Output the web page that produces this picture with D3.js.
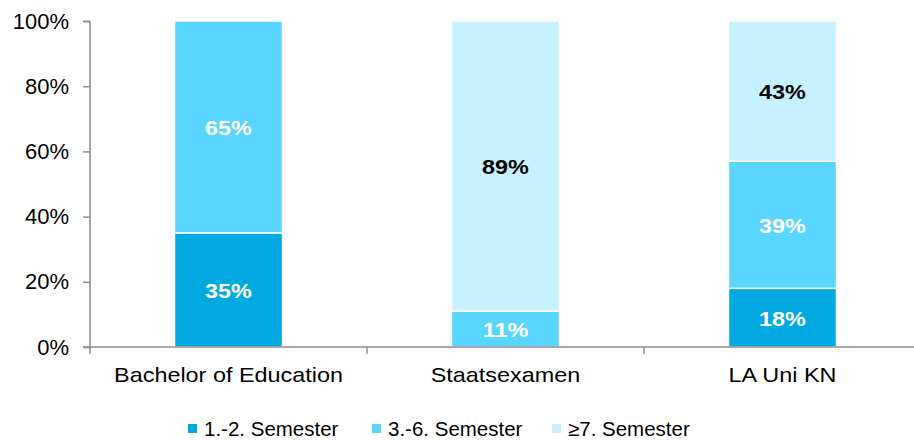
<html lang="de">
<head>
<meta charset="utf-8">
<title>Semester</title>
<style>
  body { margin: 0; background: white; font-family: "Liberation Sans", Arial, sans-serif; }
  .axis path, .axis line { stroke: #8c8c8c; stroke-width: 1.5; fill: none; }
  .axis text { font-family: "Liberation Sans", Arial, sans-serif; font-size: 20px; fill: #000; }
  .y.axis text { font-size: 22px; }
  .lbl { font-size: 20px; font-weight: bold; text-anchor: middle; }
  .legend text { font-size: 20.5px; }
</style>
</head>
<body>
<script src="https://cdnjs.cloudflare.com/ajax/libs/d3/7.8.5/d3.min.js"></script>
<script>
// data
var categories = ["Bachelor of Education", "Staatsexamen", "LA Uni KN"];
var seriesNames = ["1.-2. Semester", "3.-6. Semester", "\u22657. Semester"];
var sem12 = [35, 0, 18];
var sem36 = [65, 11, 39];
var sem7 = [0, 89, 43];
var yTicks = [0, 20, 40, 60, 80, 100];

var colors = ["#00a9e0", "#59d6ff", "#c7f0ff"];
var labelColors = ["#fff", "#fff", "#000"];

var fullwidth = 914, fullheight = 440;
var margin = { top: 21, left: 90, bottom: 93 };
var height = fullheight - margin.top - margin.bottom;
var stretch = 1.17; // text in the original is a bit wider than Arial

var svg = d3.select("body").append("svg")
    .attr("width", fullwidth)
    .attr("height", fullheight);

var g = svg.append("g").attr("transform", "translate(" + margin.left + "," + margin.top + ")");

var xScale = d3.scaleBand().domain(categories).range([0, 831]).paddingInner(0.61).paddingOuter(0.305);
var yScale = d3.scaleLinear().domain([0, 100]).range([height, 0]);

var rows = categories.map(function(c, i) {
  return { cat: c, s0: sem12[i], s1: sem36[i], s2: sem7[i] };
});
var stack = d3.stack().keys(["s0", "s1", "s2"])(rows);

stack.forEach(function(layer, li) {
  var grp = g.append("g");
  var segs = layer.filter(function(d) { return d[1] - d[0] > 0; });
  grp.selectAll("rect")
    .data(segs)
    .enter().append("rect")
    .attr("x", function(d) { return xScale(d.data.cat); })
    .attr("width", xScale.bandwidth())
    .attr("y", function(d) { return yScale(d[1]); })
    .attr("height", function(d) { return yScale(d[0]) - yScale(d[1]); })
    .attr("fill", colors[li])
    .attr("stroke", "white")
    .attr("stroke-width", 1.5);
  grp.selectAll("text")
    .data(segs)
    .enter().append("text")
    .attr("class", "lbl")
    .attr("transform", function(d) {
      return "translate(" + (xScale(d.data.cat) + xScale.bandwidth() / 2) + "," + (yScale((d[0] + d[1]) / 2) + 1) + ") scale(" + stretch + ",1)";
    })
    .attr("dy", "0.35em")
    .attr("fill", labelColors[li])
    .text(function(d) { return Math.round(d[1] - d[0]) + "%"; });
});

// axes
var yAxis = d3.axisLeft(yScale).tickValues(yTicks).tickSize(7).tickPadding(14)
  .tickFormat(function(d) { return d + "%"; });
g.append("g").attr("class", "y axis").call(yAxis)
  .select(".domain").attr("d", "M-7,0.5H0V" + height + "H-7");

var xAxisG = g.append("g").attr("class", "x axis").attr("transform", "translate(0," + height + ")");
xAxisG.append("line").attr("x1", 0).attr("x2", 831).attr("y1", 0).attr("y2", 0);
var bounds = [0].concat(categories.map(function(c) { return xScale(c) + xScale.step() * 0.695; }));
xAxisG.selectAll("line.tk").data(bounds).enter().append("line").attr("class", "tk")
  .attr("x1", function(d) { return d; }).attr("x2", function(d) { return d; })
  .attr("y1", 0).attr("y2", 7);
xAxisG.selectAll("text").data(categories).enter().append("text")
  .attr("transform", function(d) {
    return "translate(" + (xScale(d) + xScale.bandwidth() / 2) + ",28) scale(" + stretch + ",1)";
  })
  .attr("dy", "0.35em")
  .attr("text-anchor", "middle")
  .text(function(d) { return d; });

// legend
var legendX = [188, 372, 552];
var legend = svg.append("g").attr("class", "legend");
seriesNames.forEach(function(n, i) {
  legend.append("rect").attr("x", legendX[i]).attr("y", 424).attr("width", 9).attr("height", 9).attr("fill", colors[i]);
  legend.append("text").attr("x", legendX[i] + 16).attr("y", 429).attr("dy", "0.35em").text(n);
});
</script>
</body>
</html>
